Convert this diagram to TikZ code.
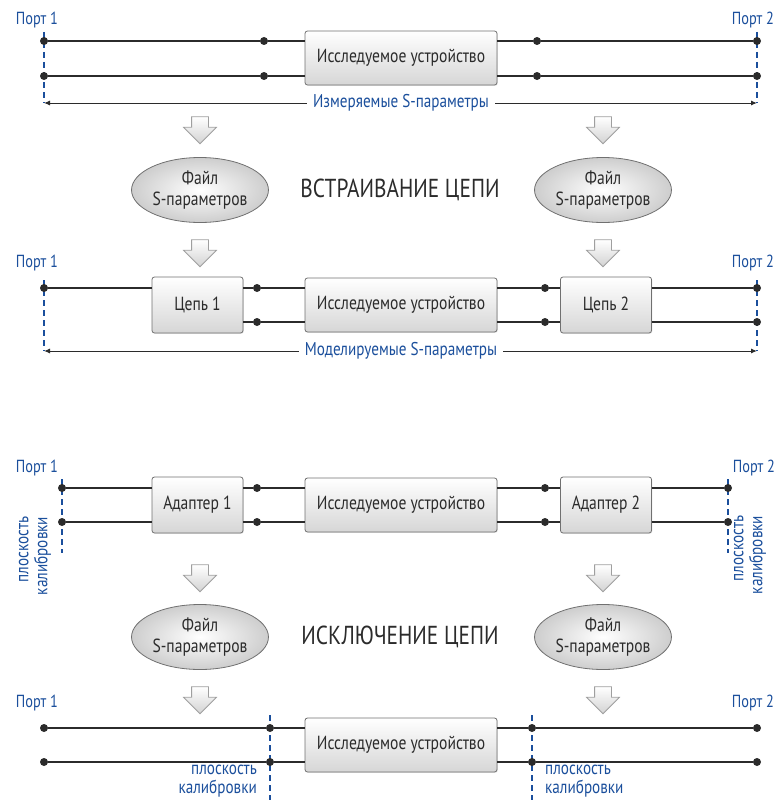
\documentclass[tikz,border=0pt]{standalone}
\usepackage{fontspec}
\setmainfont{PT Sans}[FakeStretch=0.82]
\usepackage{tikz}
\usetikzlibrary{arrows.meta,positioning,shapes.geometric,shapes.arrows,shadows}
\definecolor{portblue}{HTML}{1B4F9C}
\definecolor{wiregray}{HTML}{2B2B2B}
\definecolor{boxline}{HTML}{707070}
\definecolor{boxfill}{HTML}{D6D6D6}

\begin{document}
\begin{tikzpicture}[x=1pt,y=-1pt,
  wire/.style={wiregray,line width=1.3pt},
  meas/.style={wiregray,line width=1pt,-{Latex[length=6pt,width=5pt]}},
  plane/.style={portblue,line width=1.3pt,dash pattern=on 6pt off 4pt},
  portlbl/.style={text=portblue,font=\fontsize{17.5}{18}\selectfont},
  measlbl/.style={text=portblue,fill=white,inner xsep=6pt,font=\fontsize{18.5}{19}\selectfont},
  planelbl/.style={text=portblue,inner sep=0pt,font=\fontsize{18.5}{19}\selectfont},
  blk/.style={draw=boxline,rounded corners=2.5pt,top color=white,bottom color=boxfill,line width=0.8pt,
    minimum height=54pt,text=wiregray,font=\fontsize{19}{20}\selectfont,
    drop shadow={opacity=0.2,shadow xshift=0.8pt,shadow yshift=-0.8pt}},
  dut/.style={blk,minimum width=192pt},
  sidebox/.style={blk,minimum width=91pt,minimum height=56pt},
  sfile/.style={ellipse,draw=boxline,line width=0.8pt,inner color=white,outer color=boxfill!90!gray,
    minimum width=132pt,minimum height=65pt,inner sep=1pt,align=center,text=wiregray,font=\fontsize{19}{21}\selectfont},
  down/.style={single arrow,shape border rotate=270,draw=gray!75,top color=white,bottom color=gray!35,
    line width=0.8pt,minimum height=27pt,minimum width=32pt,inner sep=8pt,single arrow head extend=8pt},
  pt/.style={circle,fill=wiregray,inner sep=0pt,minimum size=8pt},
  title/.style={text=wiregray,font=\fontsize{26}{28}\selectfont}]
  \useasboundingbox (0,0) rectangle (777,800);

  % --- embedding: measured
  \node[portlbl] (p1a) at (37,20) {Порт 1};
  \node[portlbl] (p2a) at (753,20) {Порт 2};
  \node[dut] (dut1) at (401,58) {Исследуемое устройство};
  \coordinate (m1l) at (44,103);
  \coordinate (m1r) at (757,103);
  \draw[plane] (44,32) -- (m1l);
  \draw[plane] (757,32) -- (m1r);
  \node[measlbl] (meas1) at (401,103) {Измеряемые S-параметры};
  \draw[meas] (meas1.west) -- (m1l);
  \draw[meas] (meas1.east) -- (m1r);
  \foreach \x in {44,264,537,757}{
    \foreach \y in {41,76}{
      \node[pt] (d\x-\y) at (\x,\y) {};
    }
  }
  \foreach \y in {41,76}{
    \draw[wire] (d44-\y) -- (d264-\y) -- (d264-\y -| dut1.west);
    \draw[wire] (dut1.east |- d537-\y) -- (d537-\y) -- (d757-\y);
  }

  \node[down] (ar1) at (200,126) {};
  \node[down] (ar2) at (603,126) {};
  \node[sfile] (f1) at (200,190) {Файл\\S-параметров};
  \node[sfile] (f2) at (603,190) {Файл\\S-параметров};
  \node[title] (t1) at (400,190) {ВСТРАИВАНИЕ ЦЕПИ};
  \node[down] (ar3) at (200,249) {};
  \node[down] (ar4) at (603,249) {};

  % --- embedding: simulated
  \node[portlbl] (p1b) at (37,263) {Порт 1};
  \node[portlbl] (p2b) at (753,263) {Порт 2};
  \node[sidebox] (ch1) at (197.5,305) {Цепь 1};
  \node[dut] (dut2) at (401,305) {Исследуемое устройство};
  \node[sidebox] (ch2) at (606,305) {Цепь 2};
  \coordinate (m2l) at (44,351);
  \coordinate (m2r) at (757,351);
  \draw[plane] (44,280) -- (m2l);
  \draw[plane] (757,280) -- (m2r);
  \node[measlbl] (meas2) at (401,351) {Моделируемые S-параметры};
  \draw[meas] (meas2.west) -- (m2l);
  \draw[meas] (meas2.east) -- (m2r);
  \node[pt] (d44-288) at (44,288) {};
  \foreach \x in {257,545,757}{
    \foreach \y in {288,322}{
      \node[pt] (d\x-\y) at (\x,\y) {};
    }
  }
  \draw[wire] (d44-288) -- (d44-288 -| ch1.west);
  \foreach \y in {288,322}{
    \draw[wire] (ch1.east |- d257-\y) -- (d257-\y) -- (d257-\y -| dut2.west);
    \draw[wire] (dut2.east |- d545-\y) -- (d545-\y) -- (d545-\y -| ch2.west);
    \draw[wire] (ch2.east |- d757-\y) -- (d757-\y);
  }

  % --- de-embedding: adapters
  \node[portlbl] (p1c) at (37,468) {Порт 1};
  \node[portlbl] (p2c) at (754,468) {Порт 2};
  \node[sidebox] (ad1) at (197.5,505) {Адаптер 1};
  \node[dut] (dut3) at (401,505) {Исследуемое устройство};
  \node[sidebox] (ad2) at (606,505) {Адаптер 2};
  \draw[plane] (62,479) -- (62,553);
  \draw[plane] (728,479) -- (728,553);
  \node[planelbl,rotate=90,align=right] (cal1) at (35,556) {плоскость\\калибровки};
  \node[planelbl,rotate=90,align=right] (cal2) at (750,555) {плоскость\\калибровки};
  \foreach \x in {62,257,545,728}{
    \foreach \y in {488,522}{
      \node[pt] (d\x-\y) at (\x,\y) {};
    }
  }
  \foreach \y in {488,522}{
    \draw[wire] (d62-\y) -- (d62-\y -| ad1.west);
    \draw[wire] (ad1.east |- d257-\y) -- (d257-\y) -- (d257-\y -| dut3.west);
    \draw[wire] (dut3.east |- d545-\y) -- (d545-\y) -- (d545-\y -| ad2.west);
    \draw[wire] (ad2.east |- d728-\y) -- (d728-\y);
  }

  \node[down] (ar5) at (200,574) {};
  \node[down] (ar6) at (603,574) {};
  \node[sfile] (f3) at (200,637) {Файл\\S-параметров};
  \node[sfile] (f4) at (603,637) {Файл\\S-параметров};
  \node[title] (t2) at (400,637) {ИСКЛЮЧЕНИЕ ЦЕПИ};
  \node[down] (ar7) at (200,696) {};
  \node[down] (ar8) at (603,696) {};

  % --- de-embedding: result
  \node[portlbl] (p1d) at (37,703) {Порт 1};
  \node[portlbl] (p2d) at (753,703) {Порт 2};
  \node[dut] (dut4) at (401,745) {Исследуемое устройство};
  \draw[plane] (270,715) -- (270,800);
  \draw[plane] (532,715) -- (532,800);
  \node[planelbl,anchor=east,align=right] (cal3) at (257,781) {плоскость\\калибровки};
  \node[planelbl,anchor=west,align=left] (cal4) at (545,781) {плоскость\\калибровки};
  \foreach \x in {44,270,532,757}{
    \foreach \y in {728,762}{
      \node[pt] (d\x-\y) at (\x,\y) {};
    }
  }
  \foreach \y in {728,762}{
    \draw[wire] (d44-\y) -- (d270-\y) -- (d270-\y -| dut4.west);
    \draw[wire] (dut4.east |- d532-\y) -- (d532-\y) -- (d757-\y);
  }
\end{tikzpicture}
\end{document}
